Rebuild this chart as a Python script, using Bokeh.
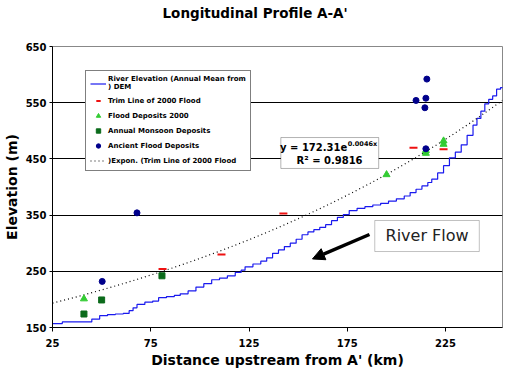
import numpy as np
from bokeh.plotting import figure
from bokeh.models import (FixedTicker, Legend, LegendItem, BoxAnnotation, Label,
                          Arrow, NormalHead, Range1d, Title)
from bokeh.embed import file_html
from bokeh.resources import INLINE

# ---------------- data ----------------
river_x = [25, 30, 42, 45, 49, 53, 57, 61, 64, 66, 68, 72, 76, 79, 83, 87, 90, 94, 98, 102,
           106, 110, 114, 118, 121, 123, 127, 131, 134, 137, 140, 143, 146, 149, 152, 155,
           158, 161, 164, 167, 170, 173, 176, 180, 184, 188, 192, 196, 200, 204, 207, 210,
           213, 216, 218, 221, 224, 227, 230, 233, 236, 239, 241, 243, 245, 247, 249, 251,
           253, 255]
river_y = [157, 160, 160, 165, 171, 173, 174, 175, 180, 185, 191, 195, 197, 203, 205, 207,
           210, 215, 222, 228, 235, 238, 242, 248, 252, 258, 263, 268, 274, 282, 288, 294,
           300, 307, 315, 320, 324, 328, 333, 340, 346, 351, 358, 362, 365, 368, 371, 375,
           379, 384, 390, 396, 402, 408, 414, 425, 438, 452, 462, 475, 492, 510, 522, 535,
           548, 556, 562, 574, 577, 577]

trim_x = [81, 111, 142.5, 208.7, 224]
trim_y = [254, 280, 353, 470, 467]

flood2000_x = [41, 195, 215, 215, 224, 224]
flood2000_y = [201, 422, 460, 465, 476, 482]

monsoon_x = [41, 50, 80.7]
monsoon_y = [174, 199, 242]

ancient_x = [50.3, 68, 215.5, 210, 215, 214.5, 215]
ancient_y = [232, 354, 592, 554, 558, 541, 468]

# Excel exponential trendline of the trim line (coefficients shown on chart)
TREND_A = 172.31
TREND_B = 0.0046
trend_x = np.linspace(25, 254, 120)
trend_y = TREND_A * np.exp(TREND_B * trend_x)

x_ticks = [25, 75, 125, 175, 225]
y_ticks = [150, 250, 350, 450, 550, 650]
grid_ticks = [250, 350, 450, 550]

# ---------------- figure ----------------
p = figure(width=511, height=375, output_backend="svg", toolbar_location=None,
           x_range=Range1d(25, 254), y_range=Range1d(150, 650),
           min_border_left=49, min_border_right=9, min_border_top=46, min_border_bottom=48,
           background_fill_color="white", border_fill_color="white")

p.title.text = "Longitudinal Profile A-A'"
p.title.align = "left"
p.title.offset = 110
p.title.vertical_align = "bottom"
p.title.standoff = 2
p.title.text_font = "DejaVu Sans"
p.title.text_font_style = "bold"
p.title.text_font_size = "13.5px"
p.title.text_color = "black"

# blank spacer panel between the title and the plot frame
p.add_layout(Title(text=" ", text_font_size="1px", standoff=22), "above")

p.outline_line_color = "#888888"
p.outline_line_width = 1

p.xgrid.visible = False
p.ygrid.ticker = FixedTicker(ticks=grid_ticks)
p.ygrid.grid_line_color = "black"
p.ygrid.grid_line_width = 1

for ax in (p.xaxis[0], p.yaxis[0]):
    ax.axis_line_color = "black"
    ax.major_tick_line_color = "black"
    ax.minor_tick_line_color = None
    ax.major_tick_in = 0
    ax.major_label_text_font = "DejaVu Sans"
    ax.major_label_text_font_style = "bold"
    ax.major_label_text_font_size = "10px"
    ax.major_label_text_color = "black"
    ax.axis_label_text_font = "DejaVu Sans"
    ax.axis_label_text_font_style = "bold"
    ax.axis_label_text_font_size = "14px"
    ax.axis_label_text_color = "black"

p.xaxis.ticker = FixedTicker(ticks=x_ticks)
p.yaxis.ticker = FixedTicker(ticks=y_ticks)
p.xaxis.major_tick_out = 4
p.yaxis.major_tick_out = 3
p.xaxis.major_label_standoff = 7
p.yaxis.major_label_standoff = 3
p.xaxis.axis_label = "Distance upstream from A' (km)"
p.yaxis.axis_label = "Elevation (m)"
p.xaxis.axis_label_standoff = 2
p.yaxis.axis_label_standoff = 3

# ---------------- glyphs ----------------
r_river = p.step(river_x, river_y, mode="after", line_color="#1a1aee", line_width=1.2)
r_trend = p.line(trend_x, trend_y, line_color="black", line_width=1.2, line_dash="1 3")
r_trim = p.scatter(trim_x, trim_y, marker="dash", size=8, line_color="#ee1111", line_width=2)
r_flood = p.scatter(flood2000_x, flood2000_y, marker="triangle", size=7,
                    fill_color="#33cc33", line_color="#33cc33")
r_mon = p.scatter(monsoon_x, monsoon_y, marker="square", size=6,
                  fill_color="#0b6b1b", line_color="#0b6b1b")
r_anc = p.scatter(ancient_x, ancient_y, marker="circle", size=6,
                  fill_color="#00008b", line_color="#00008b")

# ---------------- legend ----------------
legend = Legend(items=[
    LegendItem(label="River Elevation (Annual Mean from\n) DEM", renderers=[r_river]),
    LegendItem(label="Trim Line of 2000 Flood", renderers=[r_trim]),
    LegendItem(label="Flood Deposits 2000", renderers=[r_flood]),
    LegendItem(label="Annual Monsoon Deposits", renderers=[r_mon]),
    LegendItem(label="Ancient Flood Deposits", renderers=[r_anc]),
    LegendItem(label=")Expon. (Trim Line of 2000 Flood", renderers=[r_trend]),
], location=(33, 156))
legend.label_text_font = "DejaVu Sans"
legend.label_text_font_style = "bold"
legend.label_text_font_size = "7px"
legend.label_text_color = "black"
legend.label_text_line_height = 1.0
legend.label_height = 11
legend.glyph_height = 11
legend.glyph_width = 16
legend.label_standoff = 2
legend.spacing = 4
legend.padding = 4
legend.margin = 0
legend.border_line_color = "black"
legend.border_line_width = 1
legend.background_fill_color = "white"
legend.background_fill_alpha = 1
p.add_layout(legend, "center")

# ---------------- annotations ----------------
eq_box = BoxAnnotation(left=141.2, right=191, top=488, bottom=433,
                       fill_color="white", fill_alpha=1, line_color="black", line_width=1)
p.add_layout(eq_box)
p.add_layout(Label(x=175, y=470, text="y = 172.31e", text_align="right", text_baseline="middle",
                   text_font="DejaVu Sans", text_font_style="bold", text_font_size="10px",
                   text_color="black"))
p.add_layout(Label(x=175.3, y=477, text="0.0046x", text_align="left", text_baseline="middle",
                   text_font="DejaVu Sans", text_font_style="bold", text_font_size="6.5px",
                   text_color="black"))
p.add_layout(Label(x=166, y=447, text="R\u00b2 = 0.9816", text_align="center",
                   text_baseline="middle", text_font="DejaVu Sans", text_font_style="bold",
                   text_font_size="10px", text_color="black"))

flow_box = BoxAnnotation(left=189, right=242.2, top=340.4, bottom=285.2,
                         fill_color="white", fill_alpha=1, line_color="#333333", line_width=1)
p.add_layout(flow_box)
p.add_layout(Label(x=215.6, y=313, text="River Flow", text_align="center", text_baseline="middle",
                   text_font="DejaVu Sans", text_font_size="16px", text_color="#222222"))

p.add_layout(Arrow(end=NormalHead(size=12, fill_color="black", line_color="black"),
                   x_start=186.3, y_start=315.5, x_end=157.3, y_end=272,
                   line_color="black", line_width=3.5))

open("out.html", "w").write(file_html(p, INLINE))
